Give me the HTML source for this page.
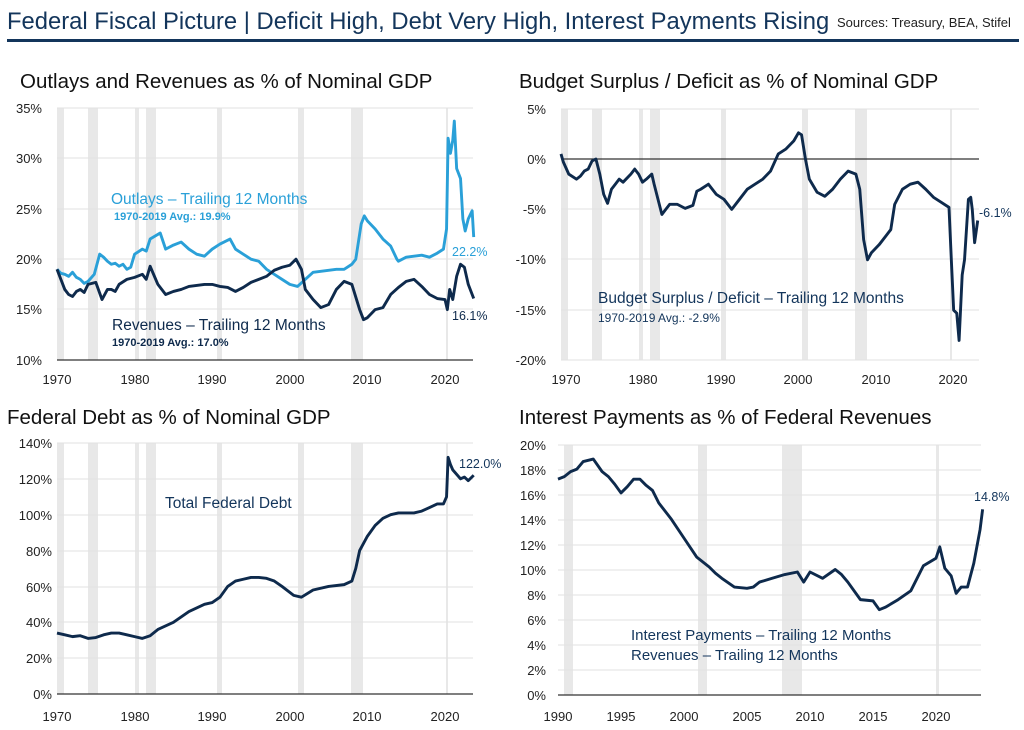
<!DOCTYPE html>
<html><head><meta charset="utf-8"><style>
html,body{margin:0;padding:0;background:#fff;}
svg{display:block;font-family:"Liberation Sans",sans-serif;}
.t{font-size:20.5px;fill:#111;}
.ax{font-size:13px;fill:#222;}
.g{stroke:#e2e2e2;stroke-width:1;}
.r{fill:#e8e8e8;}
.l{fill:none;stroke-width:2.9;vector-effect:non-scaling-stroke;stroke-linejoin:round;}
</style></head><body>
<svg width="1024" height="730" viewBox="0 0 1024 730">
<text x="7" y="29" style="font-size:23.8px;fill:#13355b">Federal Fiscal Picture  |  Deficit High, Debt Very High, Interest Payments Rising</text>
<text x="837" y="27" style="font-size:13px;fill:#222">Sources: Treasury, BEA, Stifel</text>
<rect x="7" y="39" width="1012" height="3" fill="#13355b"/>

<!-- Panel 1 -->
<text class="t" x="20" y="88">Outlays and Revenues as % of Nominal GDP</text>
<g transform="translate(57,0)">
<rect class="r" x="0" y="108" width="7" height="252"/><rect class="r" x="31" y="108" width="10" height="252"/>
<rect class="r" x="78" y="108" width="4" height="252"/><rect class="r" x="89" y="108" width="10" height="252"/>
<rect class="r" x="160" y="108" width="5" height="252"/><rect class="r" x="241" y="108" width="6" height="252"/>
<rect class="r" x="294" y="108" width="12" height="252"/><rect class="r" x="389" y="108" width="2" height="252"/>
</g>
<g class="g"><line x1="57" x2="473" y1="108" y2="108"/><line x1="57" x2="473" y1="158" y2="158"/><line x1="57" x2="473" y1="209" y2="209"/><line x1="57" x2="473" y1="259" y2="259"/><line x1="57" x2="473" y1="309" y2="309"/></g>
<line x1="57" x2="473" y1="360" y2="360" stroke="#333" stroke-width="1.2"/>
<g class="ax" text-anchor="end"><text x="42" y="113">35%</text><text x="42" y="163">30%</text><text x="42" y="214">25%</text><text x="42" y="264">20%</text><text x="42" y="314">15%</text><text x="42" y="365">10%</text></g>
<g class="ax" text-anchor="middle"><text x="57" y="384">1970</text><text x="135" y="384">1980</text><text x="212" y="384">1990</text><text x="290" y="384">2000</text><text x="367" y="384">2010</text><text x="445" y="384">2020</text></g>
<g transform="translate(57,460.8) scale(7.76,-10.08)">
<polyline class="l" stroke="#2aa0d8" points="0,19 0.5,18.6 1,18.5 1.5,18.3 2,18.7 2.5,18.2 3,18 3.5,17.6 4,17.8 4.8,18.5 5.5,20.5 6,20.2 6.5,19.8 7,19.5 7.5,19.6 8,19.3 8.5,19.5 9,19 9.5,19.2 10,20.5 11,21 11.5,20.8 12,22 13.3,22.6 14,21 15,21.4 16,21.7 17,21 18,20.5 19,20.3 20,21 21,21.5 22.3,22 23,21 24,20.5 25,20 26,19.8 27,19 28,18.5 29,18 30,17.5 31,17.3 32,18 33,18.7 34,18.8 35,18.9 36,19 37,19 38,19.5 38.5,20 39.2,23.5 39.6,24.3 40,23.8 41,23 42,22 43,21.3 43.8,20 44,19.8 45,20.2 46,20.3 47,20.4 48,20.2 49,20.6 49.8,21 50.2,23 50.4,32 50.7,30.5 51,31.8 51.2,33.7 51.5,29 52,28 52.3,24 52.6,22.8 53,24 53.5,24.8 53.7,22.2"/>
<polyline class="l" stroke="#0e2a4c" points="0,19 0.5,18 1,17 1.5,16.5 2,16.3 2.5,16.8 3,17 3.5,16.7 4,17.5 5,17.7 5.8,16 6.5,17 7,17 7.5,16.8 8,17.5 9,18 10,18.2 11,18.5 11.5,18 12,19.3 13,17.5 14,16.5 15,16.8 16,17 17,17.3 18,17.4 19,17.5 20,17.5 21,17.3 22,17.2 23,16.8 24,17.2 25,17.7 26,18 27,18.3 28,18.9 29,19.2 30,19.4 30.8,20 31.5,19 32,17 33,16 34,15.2 35,15.5 36,17 37,17.8 38,17.5 39,15 39.5,14 40,14.2 41,15 42,15.2 43,16.5 44,17.2 45,17.8 46,18 47,17.3 48,16.5 49,16.1 50,16 50.3,15 50.6,17 51,16 51.5,18.3 52,19.5 52.5,19.2 53,17.5 53.7,16.1"/>
</g>
<text x="111" y="204" style="font-size:15.5px;fill:#2aa0d8">Outlays – Trailing 12 Months</text>
<text x="114" y="220" style="font-size:11px;fill:#2aa0d8;font-weight:bold">1970-2019 Avg.: 19.9%</text>
<text x="452" y="256" style="font-size:12.5px;fill:#2aa0d8">22.2%</text>
<text x="112" y="330" style="font-size:15.5px;fill:#0e2a4c">Revenues – Trailing 12 Months</text>
<text x="112" y="346" style="font-size:11px;fill:#0e2a4c;font-weight:bold">1970-2019 Avg.: 17.0%</text>
<text x="452" y="320" style="font-size:12.5px;fill:#0e2a4c">16.1%</text>

<!-- Panel 2 -->
<text class="t" x="519" y="88">Budget Surplus / Deficit as % of Nominal GDP</text>
<g transform="translate(561,0)">
<rect class="r" x="0" y="109" width="7" height="251"/><rect class="r" x="31" y="109" width="10" height="251"/>
<rect class="r" x="78" y="109" width="4" height="251"/><rect class="r" x="89" y="109" width="10" height="251"/>
<rect class="r" x="160" y="109" width="5" height="251"/><rect class="r" x="241" y="109" width="6" height="251"/>
<rect class="r" x="294" y="109" width="12" height="251"/><rect class="r" x="389" y="109" width="2" height="251"/>
</g>
<g class="g"><line x1="561" x2="979" y1="109" y2="109"/><line x1="561" x2="979" y1="209" y2="209"/><line x1="561" x2="979" y1="259" y2="259"/><line x1="561" x2="979" y1="310" y2="310"/><line x1="561" x2="979" y1="360" y2="360"/></g>
<line x1="561" x2="979" y1="159" y2="159" stroke="#333" stroke-width="1.2"/>
<g class="ax" text-anchor="end"><text x="546" y="114">5%</text><text x="546" y="164">0%</text><text x="546" y="214">-5%</text><text x="546" y="264">-10%</text><text x="546" y="315">-15%</text><text x="546" y="365">-20%</text></g>
<g class="ax" text-anchor="middle"><text x="566" y="384">1970</text><text x="643" y="384">1980</text><text x="721" y="384">1990</text><text x="798" y="384">2000</text><text x="876" y="384">2010</text><text x="953" y="384">2020</text></g>
<g transform="translate(561,159) scale(7.76,-10.08)">
<polyline class="l" stroke="#0e2a4c" points="0,0.5 0.3,-0.3 1,-1.5 2,-2 2.5,-1.7 3,-1.2 3.5,-1 4,-0.2 4.5,0 5,-1.5 5.5,-3.5 6,-4.4 6.5,-3 7,-2.5 7.5,-2 8,-2.3 9,-1.5 9.5,-1 10,-1.5 10.5,-2.3 11,-2 11.7,-1.5 12,-2.5 13,-5.5 13.5,-5 14,-4.5 15,-4.5 16,-4.9 17,-4.6 17.5,-3.2 18,-3 19,-2.5 20,-3.5 21,-4 22,-5 23,-4 24,-3 25,-2.5 26,-2 27,-1.2 28,0.5 29,1 30,1.8 30.6,2.6 31,2.4 31.5,0 32,-2 33,-3.3 34,-3.7 35,-3 36,-2 37,-1.2 38,-1.5 38.5,-3 39,-8 39.5,-10 40,-9.3 41,-8.5 42,-7.5 42.5,-7 43,-4.5 44,-3 45,-2.5 46,-2.3 47,-3 48,-3.8 49,-4.3 50,-4.8 50.3,-10 50.6,-15 51,-15.3 51.3,-18 51.7,-11.5 52,-10 52.5,-4 52.8,-3.8 53,-5 53.3,-8.3 53.7,-6.1"/>
</g>
<text x="598" y="303" style="font-size:15.5px;fill:#13355b">Budget Surplus / Deficit – Trailing 12 Months</text>
<text x="598" y="322" style="font-size:12px;fill:#13355b">1970-2019 Avg.: -2.9%</text>
<text x="979" y="217" style="font-size:12.5px;fill:#13355b">-6.1%</text>

<!-- Panel 3 -->
<text class="t" x="7" y="424">Federal Debt as % of Nominal GDP</text>
<g transform="translate(57,0)">
<rect class="r" x="0" y="443" width="7" height="251"/><rect class="r" x="31" y="443" width="10" height="251"/>
<rect class="r" x="78" y="443" width="4" height="251"/><rect class="r" x="89" y="443" width="10" height="251"/>
<rect class="r" x="160" y="443" width="5" height="251"/><rect class="r" x="241" y="443" width="6" height="251"/>
<rect class="r" x="294" y="443" width="12" height="251"/><rect class="r" x="389" y="443" width="2" height="251"/>
</g>
<g class="g"><line x1="57" x2="473" y1="443" y2="443"/><line x1="57" x2="473" y1="479" y2="479"/><line x1="57" x2="473" y1="515" y2="515"/><line x1="57" x2="473" y1="551" y2="551"/><line x1="57" x2="473" y1="587" y2="587"/><line x1="57" x2="473" y1="622" y2="622"/><line x1="57" x2="473" y1="658" y2="658"/></g>
<line x1="57" x2="473" y1="694" y2="694" stroke="#333" stroke-width="1.2"/>
<g class="ax" text-anchor="end"><text x="52" y="448">140%</text><text x="52" y="484">120%</text><text x="52" y="520">100%</text><text x="52" y="556">80%</text><text x="52" y="592">60%</text><text x="52" y="627">40%</text><text x="52" y="663">20%</text><text x="52" y="699">0%</text></g>
<g class="ax" text-anchor="middle"><text x="57" y="721">1970</text><text x="135" y="721">1980</text><text x="212" y="721">1990</text><text x="290" y="721">2000</text><text x="367" y="721">2010</text><text x="445" y="721">2020</text></g>
<g transform="translate(57,694) scale(7.76,-1.793)">
<polyline class="l" stroke="#0e2a4c" points="0,34 1,33 2,32 3,32.5 4,31 5,31.5 6,33 7,34 8,34 9,33 10,32 11,31 12,32.5 13,36 15,40 17,46 19,50 20,51 21,54 22,60 23,63 24,64 25,65 26,65 27,64.5 28,63 29,60 30.5,55 31.5,54 33,58 35,60 37,61 38,63 38.5,70 39,80 40,88 41,94 42,98 43,100 44,101 46,101 47,102 48,104 49,106 49.8,106 50.2,110 50.4,132 50.7,128 51,125 52,120 52.5,121 53,119 53.7,122"/>
</g>
<text x="165" y="508" style="font-size:15.5px;fill:#13355b">Total Federal Debt</text>
<text x="459" y="468" style="font-size:12.5px;fill:#13355b">122.0%</text>

<!-- Panel 4 -->
<text class="t" x="519" y="424">Interest Payments as % of Federal Revenues</text>
<g>
<rect class="r" x="564" y="445" width="9" height="250"/><rect class="r" x="698" y="445" width="9" height="250"/>
<rect class="r" x="782" y="445" width="20" height="250"/><rect class="r" x="936" y="445" width="3" height="250"/>
</g>
<g class="g"><line x1="558" x2="981" y1="445" y2="445"/><line x1="558" x2="981" y1="470" y2="470"/><line x1="558" x2="981" y1="495" y2="495"/><line x1="558" x2="981" y1="520" y2="520"/><line x1="558" x2="981" y1="545" y2="545"/><line x1="558" x2="981" y1="570" y2="570"/><line x1="558" x2="981" y1="595" y2="595"/><line x1="558" x2="981" y1="620" y2="620"/><line x1="558" x2="981" y1="645" y2="645"/><line x1="558" x2="981" y1="670" y2="670"/></g>
<line x1="558" x2="981" y1="695" y2="695" stroke="#333" stroke-width="1.2"/>
<g class="ax" text-anchor="end"><text x="546" y="450">20%</text><text x="546" y="475">18%</text><text x="546" y="500">16%</text><text x="546" y="525">14%</text><text x="546" y="550">12%</text><text x="546" y="575">10%</text><text x="546" y="600">8%</text><text x="546" y="625">6%</text><text x="546" y="650">4%</text><text x="546" y="675">2%</text><text x="546" y="700">0%</text></g>
<g class="ax" text-anchor="middle"><text x="558" y="721">1990</text><text x="621" y="721">1995</text><text x="684" y="721">2000</text><text x="747" y="721">2005</text><text x="810" y="721">2010</text><text x="873" y="721">2015</text><text x="936" y="721">2020</text></g>
<g transform="translate(558,695) scale(12.6,-12.55)">
<polyline class="l" stroke="#0e2a4c" points="0,17.2 0.5,17.4 1,17.8 1.5,18 2,18.6 2.8,18.8 3.5,17.8 4,17.4 4.5,16.8 5,16.1 5.5,16.6 6,17.2 6.5,17.2 7,16.7 7.5,16.3 8,15.3 9,14 10,12.5 11,11 12,10.2 12.5,9.7 13,9.3 14,8.6 15,8.5 15.5,8.6 16,9.0 17,9.3 18,9.6 19,9.8 19.5,9.0 20,9.8 21,9.3 22,10.0 22.5,9.6 23,9.0 24,7.6 25,7.5 25.5,6.8 26,7.0 27,7.6 28,8.3 29,10.3 30,10.9 30.3,11.8 30.7,10.1 31.2,9.5 31.6,8.1 32,8.6 32.5,8.6 33,10.5 33.5,13.2 33.7,14.8"/>
</g>
<text x="631" y="640" style="font-size:15px;fill:#13355b">Interest Payments – Trailing 12 Months</text>
<text x="631" y="660" style="font-size:15px;fill:#13355b">Revenues – Trailing 12 Months</text>
<text x="974" y="501" style="font-size:12.5px;fill:#13355b">14.8%</text>
</svg>
</body></html>
